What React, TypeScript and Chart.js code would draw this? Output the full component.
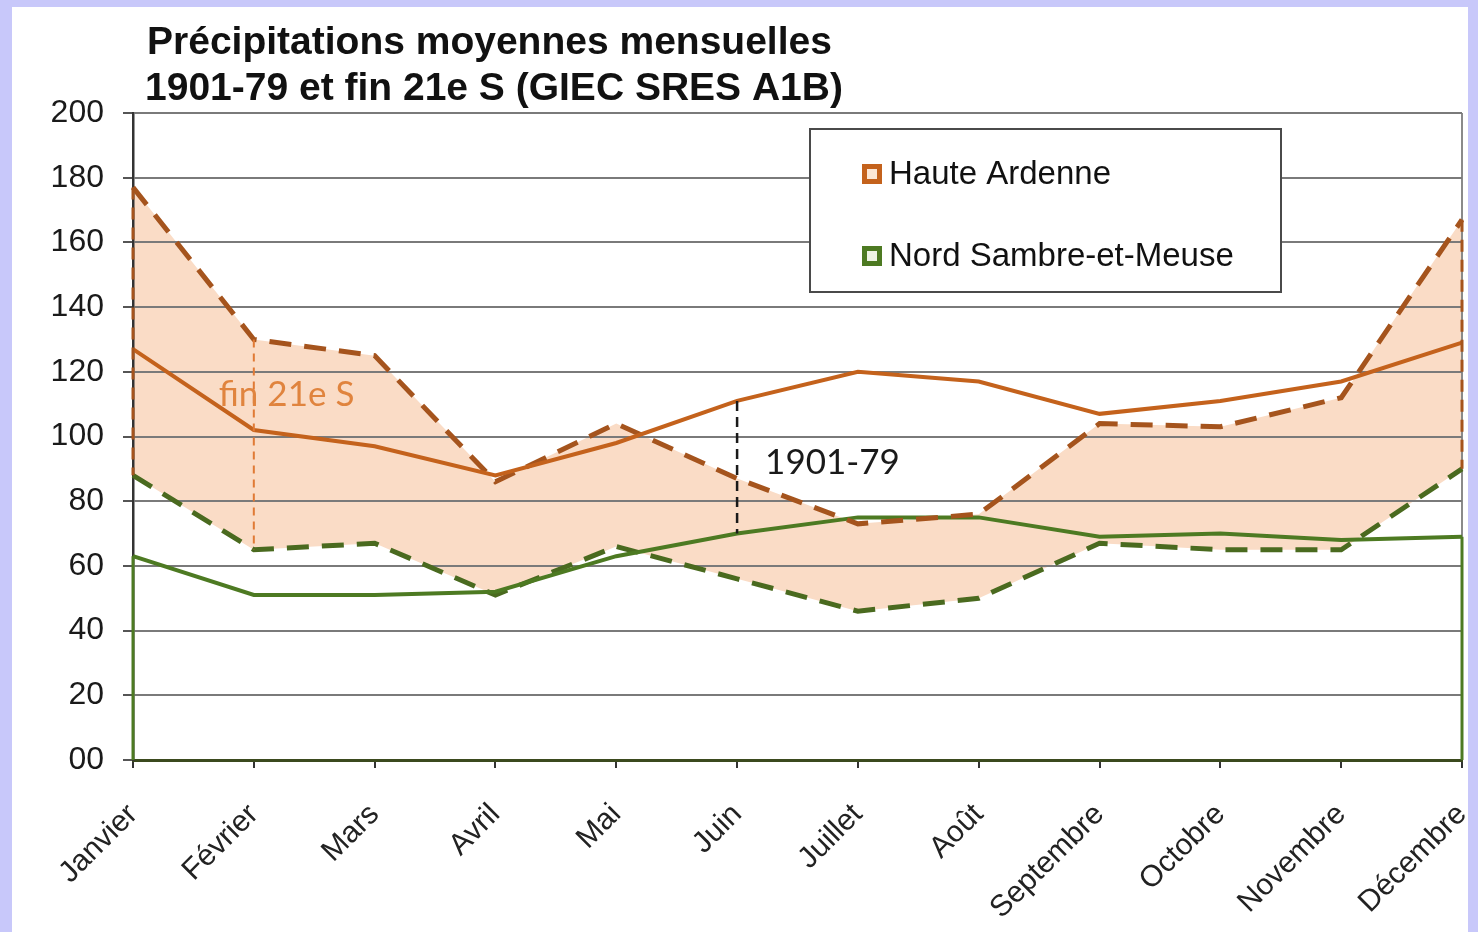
import React, { useEffect, useRef } from 'react';
import { Chart, registerables } from 'chart.js';

Chart.register(...registerables);

// ---- Data ----
const months = ['Janvier', 'Février', 'Mars', 'Avril', 'Mai', 'Juin', 'Juillet', 'Août', 'Septembre', 'Octobre', 'Novembre', 'Décembre'];
const ardenneHist = [127, 102, 97, 88, 98, 111, 120, 117, 107, 111, 117, 129];
const ardenneFuture = [177, 130, 125, 86, 104, 87, 73, 76, 104, 103, 112, 167];
const nordHist = [63, 51, 51, 52, 63, 70, 75, 75, 69, 70, 68, 69];
const nordFuture = [88, 65, 67, 51, 66, 56, 46, 50, 67, 65, 65, 90];
const yTickLabels = ['00', '20', '40', '60', '80', '100', '120', '140', '160', '180', '200'];
const titleLines = ['Précipitations moyennes mensuelles', '1901-79 et fin 21e S (GIEC SRES A1B)'];
const regionNames = ['Haute Ardenne', 'Nord Sambre-et-Meuse'];
const periodLabels = ['1901-79', 'fin 21e S'];
const futureLabelValue = 113;
const histLabelValue = 92;
const futureMarkerIndex = 1;
const histMarkerIndex = 5;

// ---- Styles ----
const orange = '#c4621c';
const orangeDark = '#a5541d';
const green = '#4d7a22';
const greenDark = '#4a6a1f';
const peach = '#fadcc6';
const FONT = '"Liberation Sans", Arial, sans-serif';

export default function App() {
  const ref = useRef<HTMLCanvasElement>(null);

  useEffect(() => {
    document.body.style.margin = '0';
    const canvas = ref.current;
    if (!canvas) return;

    const titlePlugin = {
      id: 'leftTitle',
      afterDraw(chart: any) {
        const { ctx, chartArea } = chart;
        ctx.save();
        ctx.fillStyle = '#111';
        ctx.font = `bold 39px ${FONT}`;
        ctx.textAlign = 'left';
        ctx.textBaseline = 'middle';
        ctx.fillText(titleLines[0], chartArea.left + 14, chartArea.top - 70);
        ctx.fillText(titleLines[1], chartArea.left + 12, chartArea.top - 24);
        ctx.restore();
      },
    };

    const annotPlugin = {
      id: 'annot',
      afterDatasetsDraw(chart: any) {
        const { ctx, scales } = chart;
        const x = scales.x;
        const y = scales.y;
        const last = months.length - 1;
        ctx.save();
        // edge segments
        [0, last].forEach((i) => {
          const px = x.getPixelForValue(i);
          ctx.setLineDash([12, 8]);
          ctx.strokeStyle = orangeDark;
          ctx.lineWidth = 3;
          ctx.beginPath();
          ctx.moveTo(px, y.getPixelForValue(ardenneFuture[i]));
          ctx.lineTo(px, y.getPixelForValue(nordFuture[i]));
          ctx.stroke();
          ctx.setLineDash([]);
          ctx.strokeStyle = green;
          ctx.beginPath();
          ctx.moveTo(px, y.getPixelForValue(nordHist[i]));
          ctx.lineTo(px, y.getPixelForValue(0));
          ctx.stroke();
        });
        // future marker
        const fx = x.getPixelForValue(futureMarkerIndex);
        ctx.setLineDash([8, 6]);
        ctx.strokeStyle = '#e07a35';
        ctx.lineWidth = 2;
        ctx.beginPath();
        ctx.moveTo(fx, y.getPixelForValue(ardenneFuture[futureMarkerIndex]));
        ctx.lineTo(fx, y.getPixelForValue(nordFuture[futureMarkerIndex]));
        ctx.stroke();
        // hist marker
        const hx = x.getPixelForValue(histMarkerIndex);
        ctx.setLineDash([10, 6]);
        ctx.strokeStyle = '#1a1a1a';
        ctx.lineWidth = 2.5;
        ctx.beginPath();
        ctx.moveTo(hx, y.getPixelForValue(ardenneHist[histMarkerIndex]));
        ctx.lineTo(hx, y.getPixelForValue(nordHist[histMarkerIndex]));
        ctx.stroke();
        ctx.setLineDash([]);
        // labels
        ctx.font = '35px Lato, "Open Sans", sans-serif';
        ctx.textAlign = 'left';
        ctx.textBaseline = 'middle';
        ctx.fillStyle = '#e0843e';
        ctx.fillText(periodLabels[1], fx - 35, y.getPixelForValue(futureLabelValue));
        ctx.fillStyle = '#1a1a1a';
        ctx.fillText(periodLabels[0], hx + 28, y.getPixelForValue(histLabelValue));
        ctx.restore();
      },
    };

    const legendPlugin = {
      id: 'boxLegend',
      afterDraw(chart: any) {
        const { ctx, chartArea } = chart;
        const left = chartArea.left + 677;
        const top = chartArea.top + 16;
        const w = 471;
        const h = 163;
        const outer = [orange, green];
        const inner = ['#fbe6d4', '#eef3e4'];
        ctx.save();
        ctx.fillStyle = '#fff';
        ctx.fillRect(left, top, w, h);
        ctx.strokeStyle = '#4a4a4a';
        ctx.lineWidth = 2;
        ctx.strokeRect(left, top, w, h);
        regionNames.forEach((name, i) => {
          const cy = top + 45 + i * 82;
          const mx = left + 52;
          const ms = 20;
          ctx.fillStyle = outer[i];
          ctx.fillRect(mx, cy - ms / 2, ms, ms);
          ctx.fillStyle = inner[i];
          ctx.fillRect(mx + 5, cy - ms / 2 + 5, ms - 10, ms - 10);
          ctx.fillStyle = '#111';
          ctx.font = `33px ${FONT}`;
          ctx.textAlign = 'left';
          ctx.textBaseline = 'middle';
          ctx.fillText(name, left + 79, cy + 1);
        });
        ctx.restore();
      },
    };

    const lastIdx = months.length - 1;

    const chart = new Chart(canvas, {
      type: 'line',
      data: {
        labels: months,
        datasets: [
          {
            label: `${regionNames[0]} ${periodLabels[0]}`,
            data: ardenneHist,
            borderColor: orange,
            borderWidth: 4,
            pointRadius: 0,
            tension: 0,
            fill: false,
          },
          {
            label: `${regionNames[0]} ${periodLabels[1]}`,
            data: ardenneFuture,
            borderColor: orangeDark,
            borderWidth: 5,
            borderDash: [22, 13],
            pointRadius: 0,
            tension: 0,
            fill: { target: 3 },
            backgroundColor: peach,
          },
          {
            label: `${regionNames[1]} ${periodLabels[0]}`,
            data: nordHist,
            borderColor: green,
            borderWidth: 4,
            pointRadius: 0,
            tension: 0,
            fill: false,
          },
          {
            label: `${regionNames[1]} ${periodLabels[1]}`,
            data: nordFuture,
            borderColor: greenDark,
            borderWidth: 5,
            borderDash: [22, 13],
            pointRadius: 0,
            tension: 0,
            fill: false,
          },
        ],
      },
      options: {
        animation: false,
        responsive: true,
        maintainAspectRatio: false,
        layout: { padding: { top: 106, left: 40, right: 6, bottom: 0 } },
        plugins: {
          legend: { display: false },
          tooltip: { enabled: false },
          title: { display: false },
          filler: { drawTime: 'beforeDraw' },
        } as any,
        scales: {
          x: {
            type: 'category',
            offset: false,
            afterFit: (s: any) => {
              s.height = 172;
              s.paddingLeft = 0;
              s.paddingRight = 0;
            },
            grid: {
              drawOnChartArea: true,
              color: (c: any) => (c.index === lastIdx ? '#8a8a8a' : 'rgba(0,0,0,0)'),
              tickColor: '#333',
              lineWidth: 2,
              tickLength: 8,
            },
            border: { color: '#3b4a1e', width: 3 },
            ticks: {
              autoSkip: false,
              maxRotation: 45,
              minRotation: 45,
              padding: 29,
              color: '#222',
              font: { family: FONT, size: 30 },
            },
          },
          y: {
            min: 0,
            max: 200,
            afterFit: (s: any) => { s.width = 81; },
            grid: {
              color: '#7a7a7a',
              lineWidth: 2,
              tickLength: 10,
              tickColor: '#555',
            },
            border: { color: '#333', width: 2.5 },
            ticks: {
              stepSize: 20,
              padding: 19,
              color: '#1a1a1a',
              font: { family: FONT, size: 32 },
              callback: (_v: any, i: number) => yTickLabels[i],
            },
          },
        },
      },
      plugins: [annotPlugin, legendPlugin, titlePlugin],
    });

    return () => chart.destroy();
  }, []);

  return (
    <div style={{ position: 'fixed', inset: 0, background: '#c8c8fa' }}>
      <div style={{ position: 'absolute', left: 12, top: 7, width: 1456, height: 925, background: '#fff' }}>
        <canvas ref={ref} style={{ display: 'block' }} />
      </div>
    </div>
  );
}
